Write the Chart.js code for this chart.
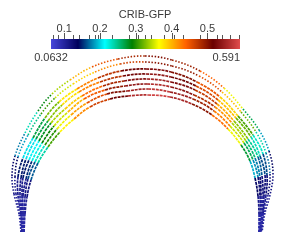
<!DOCTYPE html>
<html>
<head>
<meta charset="utf-8">
<script src="https://cdn.jsdelivr.net/npm/chart.js@4/dist/chart.umd.min.js"></script>
<style>
  html, body { margin: 0; padding: 0; background: #fff; }
  #chart { display: block; }
</style>
</head>
<body>
<canvas id="chart" width="287" height="247"></canvas>
<script>
// scalar range and colour bar ticks
const scalarName = 'CRIB-GFP';
const scalarMin = 0.0632;
const scalarMax = 0.591;
const colorbarTicks = [0.1, 0.2, 0.3, 0.4, 0.5];
const colorbarMinorTicks = [0.07, 0.084, 0.124, 0.141, 0.17, 0.186, 0.194, 0.233, 0.282, 0.307, 0.327, 0.342, 0.379, 0.408, 0.431, 0.479, 0.526, 0.54, 0.563, 0.589];

// arch outlines, outer (1) to inner (8): position and CRIB-GFP value per point
const arch1X = [21, 19, 14, 12, 15, 25, 38, 52, 70, 92, 118, 145, 172, 200, 224, 243, 259, 269, 273, 270, 265, 262];
const arch1Y = [232, 214, 194, 176, 156, 133, 111, 94, 80, 67, 59, 56, 60, 71, 88, 109, 130, 151, 173, 195, 213, 232];
const arch1V = [0.10, 0.10, 0.11, 0.12, 0.14, 0.21, 0.26, 0.31, 0.37, 0.43, 0.47, 0.50, 0.51, 0.47, 0.41, 0.31, 0.22, 0.15, 0.12, 0.11, 0.10, 0.10];

const arch2X = [21, 20, 16, 15, 18, 28, 41, 55, 73, 95, 120, 145, 172, 199, 222, 241, 256, 266, 270, 268, 264, 262];
const arch2Y = [232, 214, 194, 177, 157, 135, 114, 98, 84, 72, 64, 62, 66, 76, 92, 112, 132, 153, 174, 195, 213, 232];
const arch2V = [0.10, 0.10, 0.11, 0.12, 0.15, 0.22, 0.28, 0.33, 0.37, 0.40, 0.44, 0.49, 0.51, 0.48, 0.43, 0.36, 0.28, 0.20, 0.14, 0.11, 0.10, 0.10];

const arch3X = [22, 21, 18, 18, 23, 33, 45, 59, 77, 98, 121, 146, 171, 197, 220, 238, 253, 263, 267, 266, 263, 261];
const arch3Y = [232, 214, 195, 177, 158, 138, 118, 102, 89, 78, 71, 69, 72, 82, 97, 116, 135, 154, 175, 195, 213, 232];
const arch3V = [0.09, 0.10, 0.10, 0.12, 0.17, 0.24, 0.30, 0.35, 0.40, 0.45, 0.50, 0.53, 0.53, 0.48, 0.42, 0.35, 0.27, 0.19, 0.13, 0.11, 0.10, 0.09];

const arch4X = [22, 21, 20, 21, 26, 36, 48, 62, 79, 100, 123, 146, 171, 196, 218, 236, 251, 260, 265, 264, 263, 261];
const arch4Y = [232, 214, 195, 178, 159, 139, 121, 105, 92, 82, 76, 74, 77, 86, 100, 118, 137, 156, 175, 196, 213, 232];
const arch4V = [0.09, 0.10, 0.10, 0.12, 0.17, 0.24, 0.30, 0.36, 0.40, 0.45, 0.50, 0.54, 0.54, 0.49, 0.43, 0.36, 0.28, 0.19, 0.13, 0.11, 0.10, 0.09];

const arch5X = [23, 22, 22, 23, 29, 39, 51, 65, 82, 103, 124, 147, 171, 195, 217, 234, 248, 258, 262, 263, 262, 260];
const arch5Y = [232, 214, 196, 178, 160, 141, 123, 109, 96, 86, 81, 79, 82, 90, 104, 121, 139, 157, 176, 196, 213, 232];
const arch5V = [0.09, 0.10, 0.10, 0.12, 0.17, 0.25, 0.31, 0.37, 0.41, 0.46, 0.51, 0.55, 0.55, 0.50, 0.44, 0.37, 0.29, 0.20, 0.13, 0.11, 0.10, 0.09];

const arch6X = [23, 23, 23, 26, 32, 42, 54, 68, 84, 105, 125, 147, 171, 194, 215, 232, 246, 255, 260, 261, 261, 260];
const arch6Y = [232, 214, 196, 179, 161, 143, 126, 112, 99, 90, 86, 84, 87, 95, 107, 123, 141, 158, 177, 196, 214, 232];
const arch6V = [0.09, 0.10, 0.10, 0.12, 0.18, 0.26, 0.32, 0.38, 0.42, 0.47, 0.52, 0.56, 0.56, 0.51, 0.45, 0.38, 0.30, 0.21, 0.14, 0.11, 0.10, 0.09];

const arch7X = [24, 24, 25, 28, 35, 45, 57, 71, 87, 107, 127, 148, 170, 193, 214, 230, 244, 253, 258, 260, 260, 259];
const arch7Y = [232, 214, 197, 179, 162, 145, 129, 115, 103, 94, 91, 89, 92, 99, 111, 126, 143, 160, 177, 196, 214, 232];
const arch7V = [0.09, 0.10, 0.10, 0.13, 0.19, 0.27, 0.33, 0.39, 0.43, 0.48, 0.53, 0.57, 0.57, 0.52, 0.46, 0.39, 0.31, 0.22, 0.14, 0.11, 0.10, 0.09];

const arch8X = [24, 25, 27, 31, 38, 48, 60, 74, 90, 110, 128, 148, 170, 192, 212, 228, 241, 250, 255, 258, 259, 259];
const arch8Y = [232, 214, 197, 180, 163, 147, 132, 119, 107, 99, 96, 95, 97, 104, 115, 129, 145, 161, 178, 196, 214, 232];
const arch8V = [0.09, 0.10, 0.11, 0.13, 0.20, 0.28, 0.34, 0.40, 0.44, 0.49, 0.54, 0.58, 0.58, 0.53, 0.47, 0.40, 0.32, 0.23, 0.15, 0.12, 0.10, 0.09];

// "Rainbow Desaturated" colour map
const colormapStops = [
    [0.000, 71, 71, 219],
    [0.143, 0, 0, 92],
    [0.285, 0, 255, 255],
    [0.429, 0, 128, 0],
    [0.571, 255, 255, 0],
    [0.714, 255, 97, 0],
    [0.857, 107, 0, 0],
    [1.000, 224, 77, 77]
];

function colorFor(v) {
    let t = (v - scalarMin) / (scalarMax - scalarMin);
    t = Math.max(0, Math.min(1, t));
    for (let i = 1; i < colormapStops.length; i++) {
        const a = colormapStops[i - 1];
        const b = colormapStops[i];
        if (t <= b[0]) {
            const f = (t - a[0]) / (b[0] - a[0]);
            const r = Math.round(a[1] + (b[1] - a[1]) * f);
            const g = Math.round(a[2] + (b[2] - a[2]) * f);
            const bl = Math.round(a[3] + (b[3] - a[3]) * f);
            return `rgb(${r},${g},${bl})`;
        }
    }
    return 'rgb(224,77,77)';
}

function makeArch(xs, ys, vs, dash, width) {
    return {
        data: xs.map((x, i) => ({ x: x, y: ys[i] })),
        showLine: true,
        tension: 0.4,
        borderWidth: width,
        borderDash: dash,
        borderCapStyle: 'butt',
        pointRadius: 0,
        borderColor: colorFor(vs[0]),
        segment: {
            borderColor: ctx => colorFor((vs[ctx.p0DataIndex] + vs[ctx.p1DataIndex]) / 2)
        }
    };
}

const colorbarPlugin = {
    id: 'colorbar',
    afterDraw(chart) {
        const ctx = chart.ctx;
        const left = 51, right = 240, top = 39, bottom = 49;
        const toX = v => left + (v - scalarMin) / (scalarMax - scalarMin) * (right - left);

        ctx.save();
        for (let x = left; x < right; x++) {
            const v = scalarMin + (x + 0.5 - left) / (right - left) * (scalarMax - scalarMin);
            ctx.fillStyle = colorFor(v);
            ctx.fillRect(x, top, 1, bottom - top);
        }

        ctx.strokeStyle = '#555';
        ctx.lineWidth = 1;
        colorbarMinorTicks.forEach(v => {
            const x = Math.round(toX(v)) + 0.5;
            ctx.beginPath();
            ctx.moveTo(x, top);
            ctx.lineTo(x, top - 4);
            ctx.stroke();
        });
        colorbarTicks.forEach(v => {
            const x = Math.round(toX(v)) + 0.5;
            ctx.beginPath();
            ctx.moveTo(x, top);
            ctx.lineTo(x, top - 6);
            ctx.stroke();
        });

        ctx.fillStyle = '#3a3a3a';
        ctx.textBaseline = 'middle';
        ctx.textAlign = 'center';
        ctx.font = '11px "Liberation Sans", Arial, sans-serif';
        colorbarTicks.forEach(v => {
            ctx.fillText(v.toFixed(1), toX(v), 29);
        });
        ctx.fillText(scalarName, 145, 15);

        ctx.fillText(String(scalarMin), left, 58);
        ctx.textAlign = 'right';
        ctx.fillText(String(scalarMax), right, 58);
        ctx.restore();
    }
};

const outerDash = [1.5, 1.7];
const innerDash = [3, 0.9];

new Chart(document.getElementById('chart').getContext('2d'), {
    type: 'scatter',
    data: {
        datasets: [
            makeArch(arch1X, arch1Y, arch1V, outerDash, 1.6),
            makeArch(arch2X, arch2Y, arch2V, outerDash, 1.6),
            makeArch(arch3X, arch3Y, arch3V, innerDash, 1.7),
            makeArch(arch4X, arch4Y, arch4V, innerDash, 1.7),
            makeArch(arch5X, arch5Y, arch5V, innerDash, 1.7),
            makeArch(arch6X, arch6Y, arch6V, innerDash, 1.7),
            makeArch(arch7X, arch7Y, arch7V, innerDash, 1.7),
            makeArch(arch8X, arch8Y, arch8V, innerDash, 1.7)
        ]
    },
    options: {
        responsive: false,
        animation: false,
        layout: { padding: 0 },
        scales: {
            x: { type: 'linear', min: 0, max: 287, display: false },
            y: { type: 'linear', min: 0, max: 247, reverse: true, display: false }
        },
        plugins: {
            legend: { display: false },
            tooltip: { enabled: false }
        }
    },
    plugins: [colorbarPlugin]
});
</script>
</body>
</html>
